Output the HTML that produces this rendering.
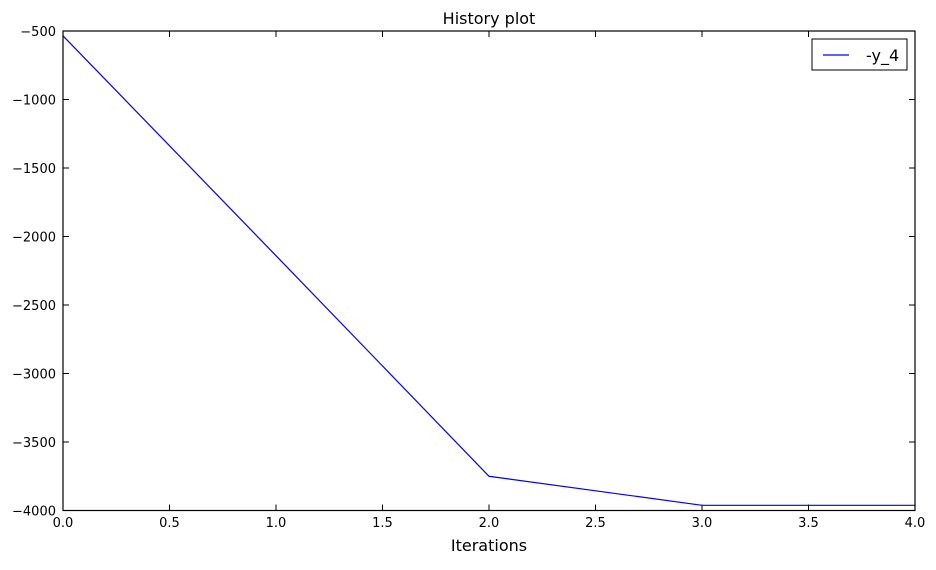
<!DOCTYPE html>
<html><head><meta charset="utf-8"><style>
body{margin:0;background:#fff;}
svg text{font-family:"DejaVu Sans","Liberation Sans",sans-serif;}
</style></head><body>
<svg id="chart" width="936" height="565" xmlns="http://www.w3.org/2000/svg">
<rect width="936" height="565" fill="#fff"/>
<g id="ticks"></g>
<polyline id="series" fill="none" stroke="#0000ff" stroke-width="1.2"/>
<rect x="63" y="31" width="852" height="479.5" fill="none" stroke="#000" stroke-width="1.2"/>
<text x="489" y="24" text-anchor="middle" font-size="16">History plot</text>
<text x="489" y="551" text-anchor="middle" font-size="16">Iterations</text>
<g>
<rect x="812" y="39" width="95" height="31" fill="#fff" stroke="#000" stroke-width="1"/>
<line x1="823" y1="55" x2="849" y2="55" stroke="#0000ff" stroke-width="1.2"/>
<text x="866" y="61" font-size="16">-y_4</text>
</g>
</svg>
<script>
const xValues = [0, 1, 2, 3, 4];
const yValues = [-535, -2140, -3750, -3962, -3962];
const xTicks = [0, 0.5, 1, 1.5, 2, 2.5, 3, 3.5, 4];
const xTickLabels = ["0.0","0.5","1.0","1.5","2.0","2.5","3.0","3.5","4.0"];
const yTicks = [-500, -1000, -1500, -2000, -2500, -3000, -3500, -4000];
const yTickLabels = ["\u2212500","\u22121000","\u22121500","\u22122000","\u22122500","\u22123000","\u22123500","\u22124000"];
const L=63,R=915,T=31,B=510.5;
const sx=v=>L+(v-0)/(4-0)*(R-L);
const sy=v=>T+(-500-v)/3500*(B-T);
const NS="http://www.w3.org/2000/svg";
const g=document.getElementById('ticks');
function mk(tag,attrs){const e=document.createElementNS(NS,tag);for(const k in attrs)e.setAttribute(k,attrs[k]);g.appendChild(e);return e;}
xTicks.forEach((v,i)=>{const x=sx(v);
 let a=mk('line',{x1:x,y1:B,x2:x,y2:B-6,stroke:'#000'});
 
 
 let b=mk('line',{x1:x,y1:T,x2:x,y2:T+6,stroke:'#000'});
 
 
 let t=mk('text',{x:x,y:527,'text-anchor':'middle','font-size':'13'});t.textContent=xTickLabels[i];
 
 
});
yTicks.forEach((v,i)=>{const y=sy(v);
 let a=mk('line',{x1:L,y1:y,x2:L+6,y2:y,stroke:'#000'});
 
 
 let b=mk('line',{x1:R,y1:y,x2:R-6,y2:y,stroke:'#000'});
 
 
 let t=mk('text',{x:56,y:y+5,'text-anchor':'end','font-size':'13'});t.textContent=yTickLabels[i];
 
 
});
document.getElementById('series').setAttribute('points',xValues.map((x,i)=>sx(x)+','+sy(yValues[i])).join(' '));
</script>
</body></html>
